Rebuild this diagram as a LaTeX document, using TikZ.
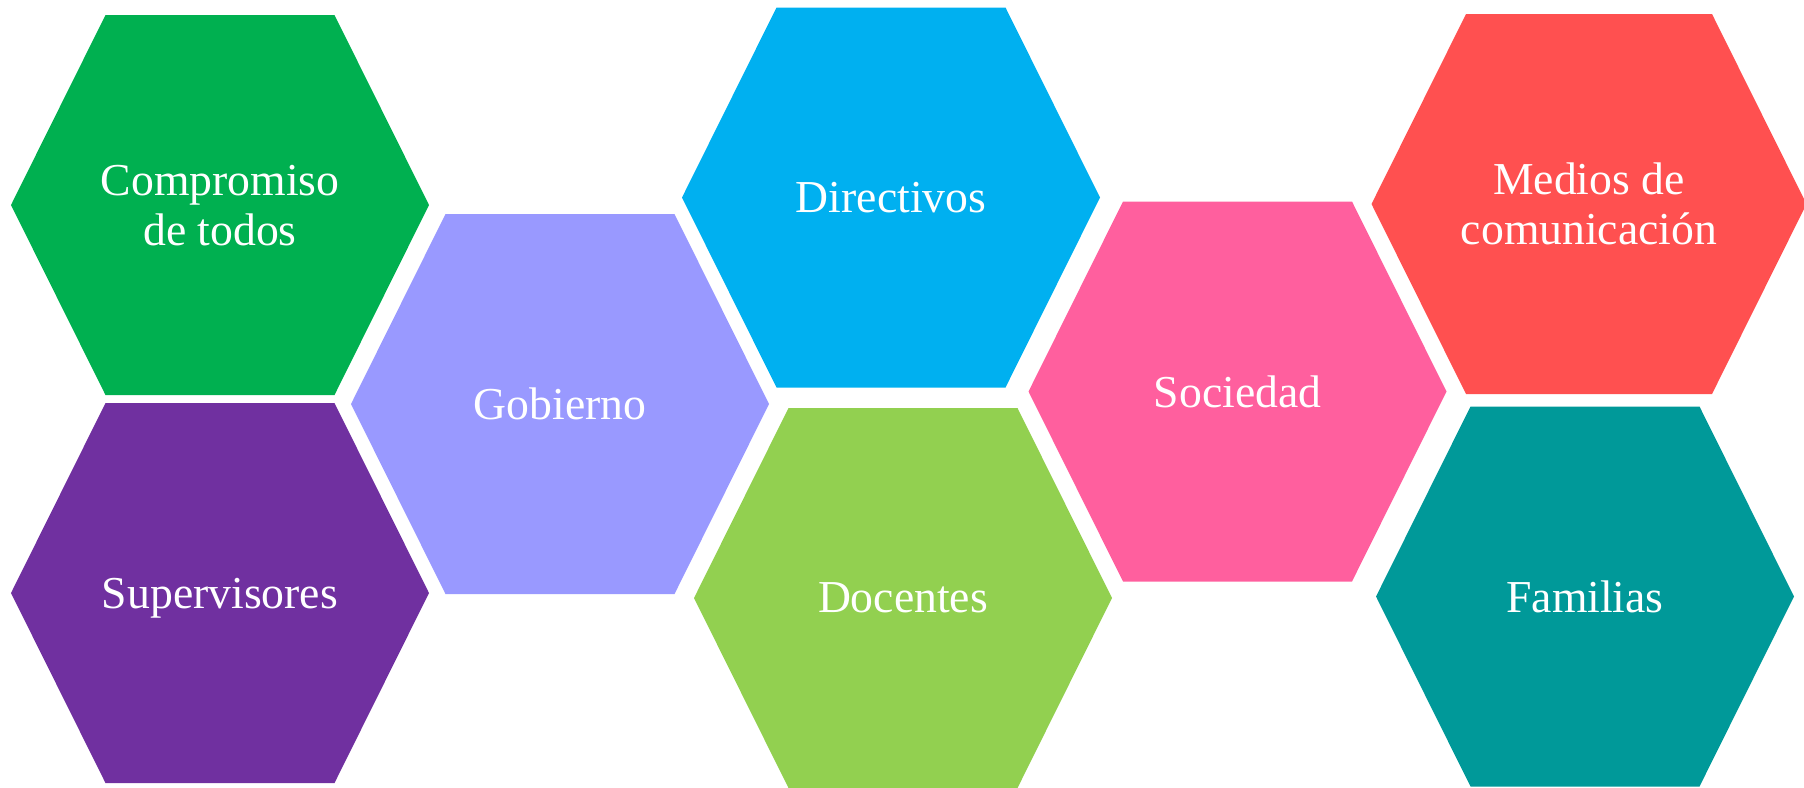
\documentclass[tikz,border=0pt]{standalone}
\usepackage{fontspec}
\setmainfont{Liberation Serif}
\usepackage{tikz}

\definecolor{hexgreen}{HTML}{00B050}
\definecolor{hexpurple}{HTML}{7030A0}
\definecolor{hexlavender}{HTML}{9999FF}
\definecolor{hexblue}{HTML}{00B0F0}
\definecolor{hexlime}{HTML}{92D050}
\definecolor{hexpink}{HTML}{FF5F9E}
\definecolor{hexred}{HTML}{FF5050}
\definecolor{hexteal}{HTML}{009999}

\tikzset{hexlabel/.style={text=white, align=center, text depth=0pt,
    font=\fontsize{13}{14.2}\selectfont}}

% name, centre, colour, half top edge, label
\newcommand{\hexcell}[5]{%
  \fill[#3] (#2) ++(-#4-0.945,0) -- ++(0.945,1.9) -- ++(2*#4,0)
    -- ++(0.945,-1.9) -- ++(-0.945,-1.9) -- ++(-2*#4,0) -- cycle;
  \node[hexlabel] (#1) at (#2) {#5};
}

\begin{document}
\begin{tikzpicture}
    \useasboundingbox (0,0) rectangle (18.04,-7.87);

    % left column
    \hexcell{compromiso}{2.20,-2.05}{hexgreen}{1.145}{Compromiso\\de todos}
    \hexcell{supervisores}{2.20,-5.93}{hexpurple}{1.145}{Supervisores}

    % middle
    \hexcell{gobierno}{5.60,-4.04}{hexlavender}{1.145}{Gobierno}
    \hexcell{directivos}{8.91,-1.975}{hexblue}{1.145}{Directivos}
    \hexcell{docentes}{9.03,-5.98}{hexlime}{1.145}{Docentes}
    \hexcell{sociedad}{12.375,-3.915}{hexpink}{1.145}{Sociedad}

    % right column
    \hexcell{medios}{15.89,-2.04}{hexred}{1.23}{Medios de\\comunicación}
    \hexcell{familias}{15.85,-5.965}{hexteal}{1.145}{Familias}

\end{tikzpicture}
\end{document}
